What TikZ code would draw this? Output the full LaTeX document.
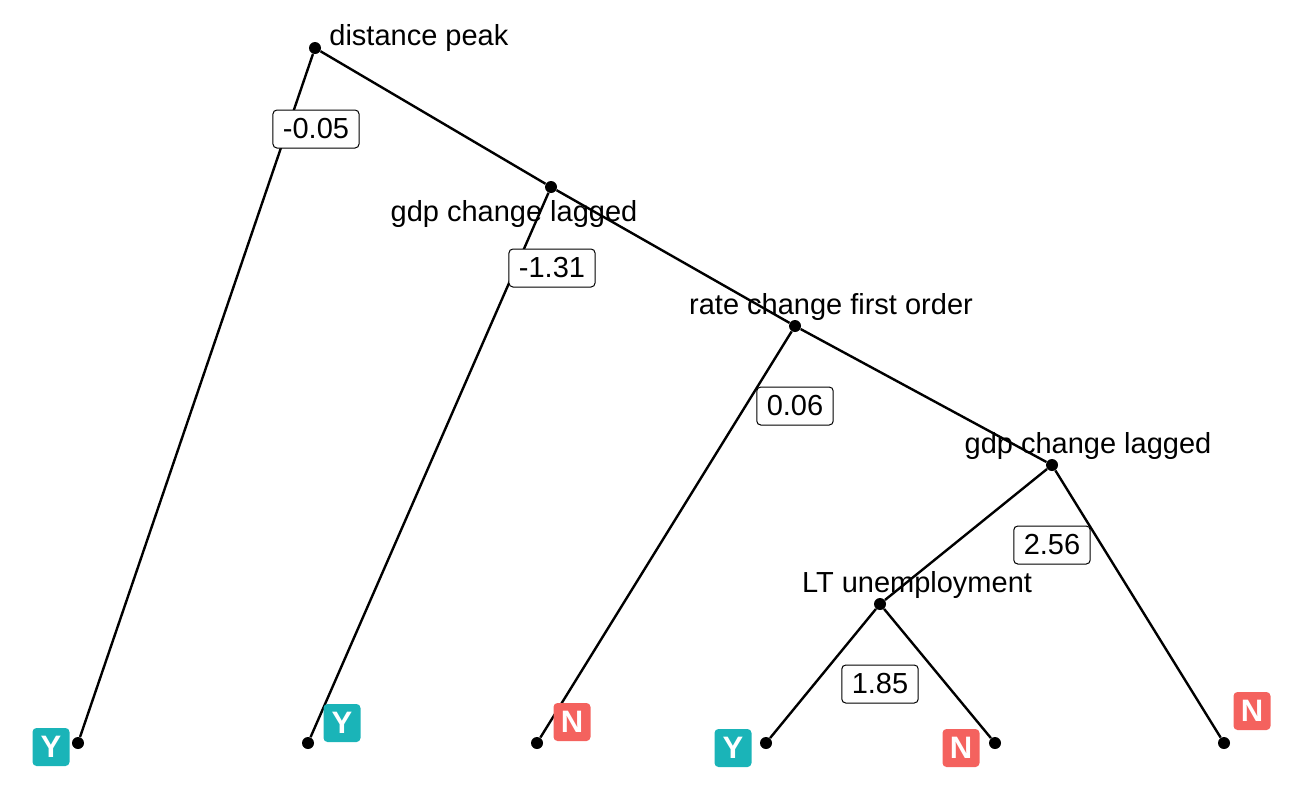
\documentclass[tikz,border=0pt]{standalone}
\usepackage{fontspec}
\setmainfont{Liberation Sans}
\definecolor{yescol}{RGB}{26,180,184}
\definecolor{nocol}{RGB}{244,98,94}
\tikzset{
  split/.style={circle, fill=black, inner sep=0pt, minimum size=6pt},
  varname/.style={font=\fontsize{14.5}{17}\selectfont, inner sep=0pt},
  cutbox/.style={draw, fill=white, rounded corners=2pt, line width=0.5pt, inner xsep=5pt, inner ysep=0pt, minimum height=19pt, font=\fontsize{14.5}{17}\selectfont},
  leafbox/.style={rounded corners=2pt, text=white, font=\fontsize{15.5}{18}\bfseries\selectfont, minimum width=18.5pt, minimum height=19pt, inner sep=0pt},
  leafY/.style={leafbox, fill=yescol},
  leafN/.style={leafbox, fill=nocol},
  branch/.style={line width=1.2pt}
}
\begin{document}
\begin{tikzpicture}[x=0.5pt, y=-0.5pt]
\useasboundingbox (0,0) rectangle (1296,800);

\node[split] (root) at (315,48) {};
\node[split] (gdpA) at (551,187) {};
\node[split] (rate) at (795,326) {};
\node[split] (gdpB) at (1052,465) {};
\node[split] (ltu) at (880,604) {};

\node[split] (leafA) at (78,743) {};
\node[split] (leafB) at (308,743) {};
\node[split] (leafC) at (537,743) {};
\node[split] (leafD) at (766,743) {};
\node[split] (leafE) at (995,743) {};
\node[split] (leafF) at (1224,743) {};

\draw [branch] (root) -- (leafA);
\draw [branch] (root) -- (gdpA);
\draw [branch] (gdpA) -- (leafB);
\draw [branch] (gdpA) -- (rate);
\draw [branch] (rate) -- (leafC);
\draw [branch] (rate) -- (gdpB);
\draw [branch] (gdpB) -- (ltu);
\draw [branch] (gdpB) -- (leafF);
\draw [branch] (ltu) -- (leafD);
\draw [branch] (ltu) -- (leafE);

\node[varname, anchor=base west] (rootlab) at (329,45) {distance peak};
\node[varname, anchor=base] (gdpAlab) at (514,221) {gdp change lagged};
\node[varname, anchor=base] (ratelab) at (831,314) {rate change first order};
\node[varname, anchor=base] (gdpBlab) at (1088,453) {gdp change lagged};
\node[varname, anchor=base] (ltulab) at (917,592) {LT unemployment};

\node[cutbox] (cutroot) at (316,129) {-0.05};
\node[cutbox] (cutgdpA) at (552,268) {-1.31};
\node[cutbox] (cutrate) at (795,406) {0.06};
\node[cutbox] (cutgdpB) at (1052,545) {2.56};
\node[cutbox] (cutltu) at (880,684) {1.85};

\node[leafY] (predA) at (51,747) {Y};
\node[leafY] (predB) at (342,723) {Y};
\node[leafN] (predC) at (572,722) {N};
\node[leafY] (predD) at (733,748) {Y};
\node[leafN] (predE) at (961,748) {N};
\node[leafN] (predF) at (1252,711) {N};
\end{tikzpicture}
\end{document}
